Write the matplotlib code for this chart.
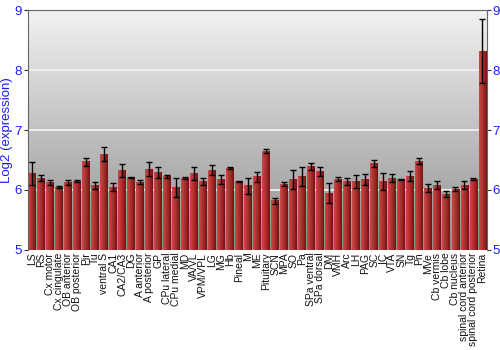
import numpy as np
import matplotlib
matplotlib.use('Agg')
import matplotlib.pyplot as plt
from matplotlib.colors import LinearSegmentedColormap

plt.rcParams['font.family'] = ['Liberation Sans', 'DejaVu Sans']

regions = ['LS', 'RS', 'Cx motor', 'Cx cingulate', 'OB anterior', 'OB posterior', 'Pir', 'Tu',
           'ventral S', 'CA1', 'CA2/CA3', 'DG', 'A anterior', 'A posterior', 'GP', 'CPu lateral',
           'CPu medial', 'MD', 'VA/VL', 'VPM/VPL', 'LG', 'MG', 'Hb', 'Pineal', 'M', 'ME',
           'Pituitary', 'SCN', 'MPA', 'SO', 'Pa', 'SPa ventral', 'SPa dorsal', 'DM', 'VMH', 'Arc',
           'LH', 'PAG', 'SC', 'IC', 'VTA', 'SN', 'Tg', 'Pn', 'MVe', 'Cb vermis', 'Cb lobe',
           'Cb nucleus', 'spinal cord anterior', 'spinal cord posterior', 'Retina']
expr = [6.28, 6.195, 6.13, 6.05, 6.13, 6.15, 6.47, 6.08,
        6.60, 6.05, 6.33, 6.21, 6.13, 6.35, 6.29, 6.23,
        6.04, 6.20, 6.27, 6.145, 6.33, 6.18, 6.36, 6.14, 6.07, 6.22,
        6.65, 5.82, 6.095, 6.18, 6.22, 6.39, 6.31, 5.95, 6.18, 6.145,
        6.145, 6.17, 6.44, 6.14, 6.20, 6.18, 6.23, 6.48, 6.03, 6.08, 5.93,
        6.01, 6.08, 6.18, 8.32]
sem = [0.19, 0.05, 0.04, 0.01, 0.04, 0.01, 0.065, 0.06,
       0.11, 0.06, 0.11, 0.01, 0.03, 0.11, 0.09, 0.025,
       0.155, 0.01, 0.105, 0.055, 0.085, 0.075, 0.015, 0.015, 0.13, 0.08,
       0.03, 0.05, 0.035, 0.16, 0.16, 0.055, 0.08, 0.16, 0.035, 0.055,
       0.11, 0.095, 0.055, 0.135, 0.07, 0.01, 0.08, 0.045, 0.065, 0.07, 0.045,
       0.035, 0.065, 0.02, 0.54]

YMIN, YMAX = 5, 9
blue = '#1a1aff'

fig = plt.figure(figsize=(5, 3.5), dpi=100)
ax = fig.add_axes([0.055, 0.286, 0.919, 0.685])
x = np.arange(len(regions))

# grey vertical gradient background
bg = LinearSegmentedColormap.from_list('bg', ['#909090', '#f2f2f2'])
ax.imshow(np.linspace(0, 1, 256).reshape(-1, 1), cmap=bg, origin='lower', aspect='auto',
          extent=[-0.5, len(regions) - 0.5, YMIN, YMAX], zorder=0)
for v in [6, 7, 8]:
    ax.axhline(v, color='#f4f4f4', lw=1.2, zorder=1)

# bars with horizontal shading
bars = ax.bar(x, np.array(expr) - YMIN, bottom=YMIN, width=0.88, color='none', zorder=2)
barcm = LinearSegmentedColormap.from_list('bar', ['#c84a4a', '#b83636', '#9a2626', '#6e1414'])
grad = np.linspace(0, 1, 32).reshape(1, -1)
for r in bars:
    ax.imshow(grad, cmap=barcm, aspect='auto', zorder=2,
              extent=[r.get_x(), r.get_x() + r.get_width(), r.get_y(), r.get_y() + r.get_height()])
ax.errorbar(x, expr, yerr=sem, fmt='none', ecolor='black', elinewidth=1, capsize=2.5,
            capthick=1, zorder=3)

ax.set_xlim(-0.5, len(regions) - 0.5)
ax.set_ylim(YMIN, YMAX)
ax.set_xticks(x)
ax.set_xticklabels(regions, rotation=90, fontsize=7.5, color='#111111')
ax.tick_params(axis='x', length=0, pad=2)
ax.set_yticks([5, 6, 7, 8, 9])
ax.tick_params(axis='y', colors='#333333', labelcolor=blue, labelsize=9.5, length=3,
               left=True, right=True, labelleft=True, labelright=True, pad=1)
ax.set_ylabel('Log2 (expression)', color=blue, fontsize=9.5, labelpad=1)
for s in ax.spines.values():
    s.set_color('#666666')
    s.set_linewidth(0.8)
ax.spines['bottom'].set_visible(False)

fig.savefig('out.png', dpi=100)
